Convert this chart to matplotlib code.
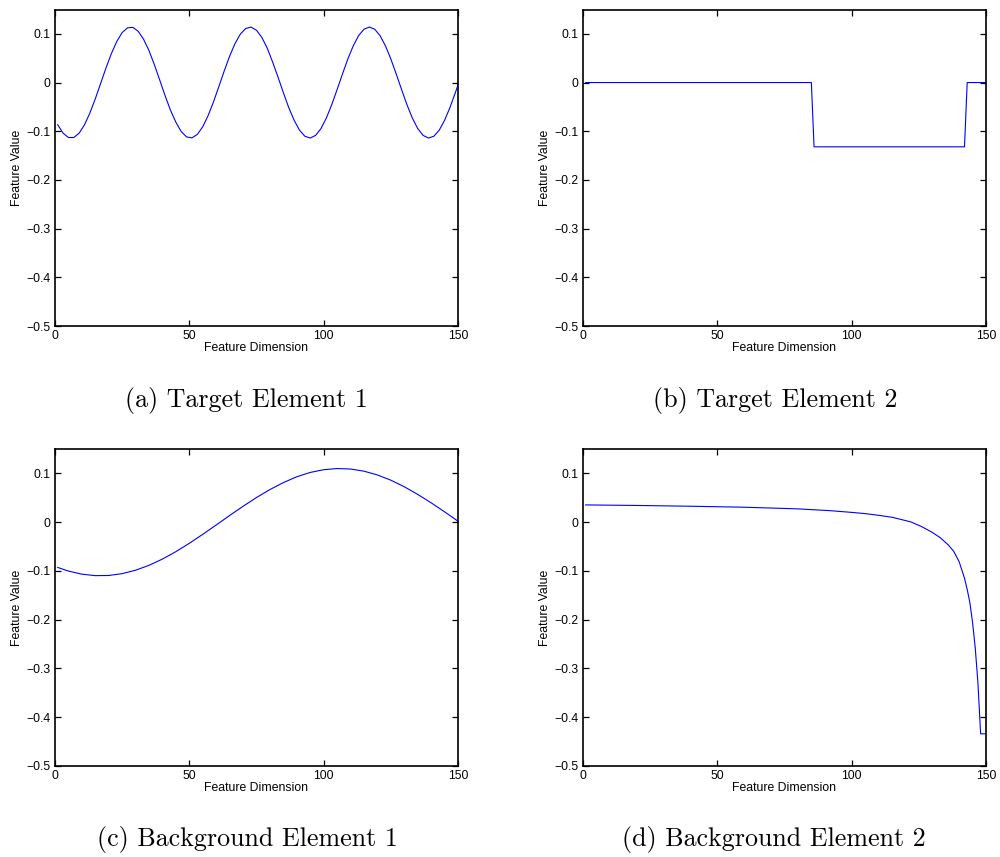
import matplotlib
matplotlib.use("Agg")
import matplotlib.pyplot as plt

# (a) target element 1: sampled sinusoid-like profile
x_a = [1, 3, 5, 7, 9, 11, 13, 15, 17, 19, 21, 23, 25, 27, 29, 31, 33, 35, 37,
       39, 41, 43, 45, 47, 49, 51, 53, 55, 57, 59, 61, 63, 65, 67, 69, 71, 73,
       75, 77, 79, 81, 83, 85, 87, 89, 91, 93, 95, 97, 99, 101, 103, 105, 107,
       109, 111, 113, 115, 117, 119, 121, 123, 125, 127, 129, 131, 133, 135,
       137, 139, 141, 143, 145, 147, 149, 150]
y_a = [-0.0866, -0.1039, -0.1129, -0.1129, -0.1039, -0.0866, -0.0624, -0.0334,
       -0.0016, 0.0303, 0.0597, 0.0845, 0.1026, 0.1124, 0.1133, 0.1051, 0.0886,
       0.0654, 0.0365, 0.0048, -0.0272, -0.0570, -0.0816, -0.1009, -0.1118,
       -0.1136, -0.1064, -0.0907, -0.0678, -0.0396, -0.0081, 0.0240, 0.0542,
       0.0800, 0.0996, 0.1111, 0.1138, 0.1074, 0.0926, 0.0706, 0.0421, 0.0113,
       -0.0208, -0.0514, -0.0774, -0.0978, -0.1103, -0.1140, -0.1085, -0.0945,
       -0.0729, -0.0455, -0.0145, 0.0176, 0.0484, 0.0752, 0.0963, 0.1095,
       0.1140, 0.1095, 0.0962, 0.0753, 0.0484, 0.0177, -0.0144, -0.0455,
       -0.0728, -0.0944, -0.1085, -0.1140, -0.1103, -0.0979, -0.0777, -0.0514,
       -0.0209, -0.0049]

# (b) target element 2: step profile
x_b = [1, 85, 86, 142, 143, 150]
y_b = [0.0, 0.0, -0.132, -0.132, 0.0, 0.0]

# (c) background element 1
x_c = [1, 5, 10, 15, 20, 25, 30, 35, 40, 45, 50, 55, 60, 65, 70, 75, 80, 85,
       90, 95, 100, 105, 110, 115, 120, 125, 130, 135, 140, 145, 150]
y_c = [-0.0929, -0.1003, -0.1067, -0.1097, -0.1094, -0.1056, -0.0986, -0.0885,
       -0.0757, -0.0605, -0.0434, -0.0250, -0.0058, 0.0136, 0.0325, 0.0505,
       0.0668, 0.0811, 0.0930, 0.1019, 0.1075, 0.1099, 0.1089, 0.1045, 0.0968,
       0.0860, 0.0726, 0.0569, 0.0396, 0.0212, 0.0019]

# (d) background element 2
x_d = [1, 20, 40, 60, 80, 92, 100, 105, 110, 115, 118, 122, 126, 130, 133,
       136, 138, 140, 142, 143, 144, 145, 146, 147, 148, 150]
y_d = [0.0353, 0.0342, 0.0326, 0.0306, 0.0272, 0.0235, 0.0200, 0.0175, 0.0140,
       0.0100, 0.0060, 0.0005, -0.0090, -0.0210, -0.0320, -0.0470, -0.0600,
       -0.0810, -0.1150, -0.1380, -0.1650, -0.2060, -0.2580, -0.3300, -0.4340,
       -0.4340]

captions = ["(a) Target Element 1", "(b) Target Element 2",
            "(c) Background Element 1", "(d) Background Element 2"]

x_ticks = [0, 50, 100, 150]
x_ticklabels = ["0", "50", "100", "150"]
y_ticks = [-0.5, -0.4, -0.3, -0.2, -0.1, 0.0, 0.1]
y_ticklabels = ["\u22120.5", "\u22120.4", "\u22120.3", "\u22120.2", "\u22120.1", "0", "0.1"]

plt.rcParams["font.family"] = ["Liberation Sans", "DejaVu Sans"]

fig = plt.figure(figsize=(10, 8.57), dpi=100)

# axes rectangles in figure fractions, and caption centres
panels = [
    ((0.055, 0.6196, 0.403, 0.3693), (0.246, 0.533), x_a, y_a),
    ((0.583, 0.6196, 0.403, 0.3693), (0.775, 0.533), x_b, y_b),
    ((0.055, 0.1062, 0.403, 0.3699), (0.247, 0.020), x_c, y_c),
    ((0.583, 0.1062, 0.403, 0.3699), (0.774, 0.020), x_d, y_d),
]

for (rect, cap_xy, xs, ys), caption in zip(panels, captions):
    ax = fig.add_axes(rect)
    ax.plot(xs, ys, color="#0000ff", linewidth=0.8)
    ax.set_xlim(0, 150)
    ax.set_ylim(-0.5, 0.15)
    ax.set_xticks(x_ticks)
    ax.set_xticklabels(x_ticklabels)
    ax.set_yticks(y_ticks)
    ax.set_yticklabels(y_ticklabels)
    ax.tick_params(direction="in", length=4, width=0.9, labelsize=8.8,
                   top=True, right=True, pad=3)
    for spine in ax.spines.values():
        spine.set_linewidth(1.2)
    ax.set_xlabel("Feature Dimension", fontsize=8.8, labelpad=0)
    ax.set_ylabel("Feature Value", fontsize=8.8, labelpad=3)
    fig.text(cap_xy[0], cap_xy[1], caption, ha="center", va="center",
             fontsize=18.7, family="cmr10")

fig.savefig("out.png", dpi=100)
